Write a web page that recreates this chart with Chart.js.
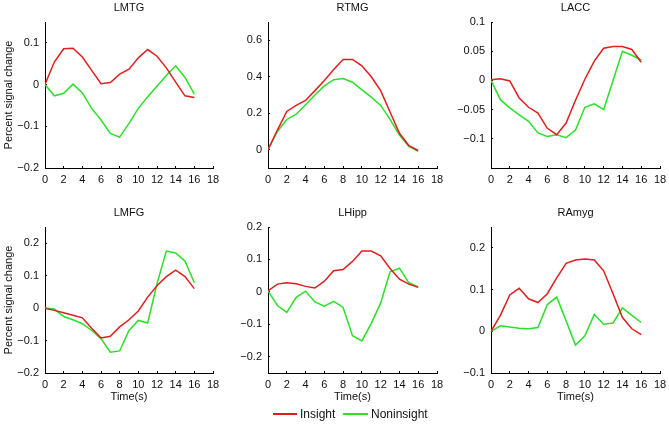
<!DOCTYPE html>
<html>
<head>
<meta charset="utf-8">
<script src="https://cdn.jsdelivr.net/npm/chart.js@4/dist/chart.umd.min.js"></script>
<style>
  body { margin: 0; background: #fff; }
  #wrap { position: relative; width: 669px; height: 424px; font-family: "Liberation Sans", Arial, sans-serif; color: #111; }
  #wrap canvas { position: absolute; left: 0; top: 0; }
  .leg { position: absolute; top: 406px; font-size: 12px; line-height: 16px; }
  .sw { position: absolute; height: 2px; top: 413px; }
</style>
</head>
<body>
<div id="wrap">
  <canvas id="c0" width="669" height="424"></canvas>
  <canvas id="c1" width="669" height="424"></canvas>
  <canvas id="c2" width="669" height="424"></canvas>
  <canvas id="c3" width="669" height="424"></canvas>
  <canvas id="c4" width="669" height="424"></canvas>
  <canvas id="c5" width="669" height="424"></canvas>
  <div class="sw" style="left:273px;width:24px;background:#e01e1e"></div>
  <div class="leg" style="left:300px">Insight</div>
  <div class="sw" style="left:343px;width:25px;background:#2be02b"></div>
  <div class="leg" style="left:371px">Noninsight</div>
</div>
<script>
// time points (s)
const times = [0, 1, 2, 3, 4, 5, 6, 7, 8, 9, 10, 11, 12, 13, 14, 15, 16];
const xTicks = [0, 2, 4, 6, 8, 10, 12, 14, 16, 18];

const regions = ["LMTG", "RTMG", "LACC", "LMFG", "LHipp", "RAmyg"];

const insightLMTG = [0, 0.054, 0.086, 0.087, 0.066, 0.034, 0.002, 0.005, 0.025, 0.037, 0.064, 0.084, 0.068, 0.04, 0.006, -0.027, -0.031];
const noninsightLMTG = [0, -0.027, -0.021, 0.001, -0.02, -0.057, -0.085, -0.117, -0.126, -0.093, -0.057, -0.029, -0.004, 0.022, 0.045, 0.017, -0.023];

const insightRTMG = [0, 0.108, 0.21, 0.243, 0.27, 0.324, 0.38, 0.44, 0.494, 0.495, 0.46, 0.4, 0.324, 0.207, 0.09, 0.023, -0.004];
const noninsightRTMG = [0, 0.1, 0.166, 0.195, 0.247, 0.3, 0.35, 0.384, 0.39, 0.37, 0.328, 0.288, 0.243, 0.166, 0.081, 0.018, -0.009];

const insightLACC = [0.001, 0.003, -0.001, -0.03, -0.046, -0.056, -0.082, -0.093, -0.073, -0.034, 0.002, 0.033, 0.055, 0.058, 0.058, 0.053, 0.031];
const noninsightLACC = [0, -0.033, -0.047, -0.059, -0.07, -0.09, -0.096, -0.093, -0.098, -0.085, -0.046, -0.04, -0.05, 0, 0.05, 0.043, 0.035];

const insightLMFG = [0, -0.007, -0.014, -0.022, -0.03, -0.062, -0.092, -0.087, -0.058, -0.036, -0.009, 0.034, 0.069, 0.097, 0.117, 0.097, 0.06];
const noninsightLMFG = [0, -0.003, -0.026, -0.036, -0.048, -0.069, -0.094, -0.136, -0.132, -0.069, -0.038, -0.046, 0.075, 0.176, 0.17, 0.145, 0.078];

const insightLHipp = [0.003, 0.024, 0.028, 0.025, 0.017, 0.012, 0.033, 0.065, 0.069, 0.094, 0.126, 0.126, 0.111, 0.072, 0.039, 0.024, 0.014];
const noninsightLHipp = [0.003, -0.042, -0.063, -0.017, 0.002, -0.031, -0.044, -0.029, -0.048, -0.135, -0.151, -0.097, -0.034, 0.062, 0.073, 0.028, 0.015];

const insightRAmyg = [0, 0.038, 0.087, 0.103, 0.078, 0.069, 0.09, 0.128, 0.163, 0.171, 0.173, 0.171, 0.145, 0.09, 0.033, 0.006, -0.008];
const noninsightRAmyg = [0, 0.013, 0.01, 0.007, 0.006, 0.009, 0.064, 0.082, 0.025, -0.033, -0.011, 0.04, 0.017, 0.02, 0.056, 0.038, 0.021];

// y axis limits and tick labels per panel
const yMin = [-0.2, -0.1, -0.15, -0.2, -0.25, -0.1];
const yMax = [0.15, 0.7, 0.1, 0.25, 0.2, 0.25];
const yTicksLMTG = [-0.2, -0.1, 0, 0.1];
const yTicksRTMG = [0, 0.2, 0.4, 0.6];
const yTicksLACC = [-0.1, -0.05, 0, 0.05, 0.1];
const yTicksLMFG = [-0.2, -0.1, 0, 0.1, 0.2];
const yTicksLHipp = [-0.2, -0.1, 0, 0.1, 0.2];
const yTicksRAmyg = [-0.1, 0, 0.1, 0.2];

const insight = [insightLMTG, insightRTMG, insightLACC, insightLMFG, insightLHipp, insightRAmyg];
const noninsight = [noninsightLMTG, noninsightRTMG, noninsightLACC, noninsightLMFG, noninsightLHipp, noninsightRAmyg];
const yTicks = [yTicksLMTG, yTicksRTMG, yTicksLACC, yTicksLMFG, yTicksLHipp, yTicksRAmyg];

const RED = '#e01e1e';
const GREEN = '#2be02b';
const FONT = { family: '"Liberation Sans", Arial, sans-serif', size: 11 };

// plot-area edges in the page
const lefts = [45, 268, 491];
const rights = [213, 437, 660];
const tops = [22, 227];
const bottoms = [168, 373];

function fmt(v) {
    if (v === 0) return '0';
    const s = String(Math.abs(v));
    return v < 0 ? '\u2212' + s : s;
}

const panelTitle = {
    id: 'panelTitle',
    afterDraw(chart, args, opts) {
        const a = chart.chartArea;
        const ctx = chart.ctx;
        ctx.save();
        ctx.font = '11px ' + FONT.family;
        ctx.fillStyle = '#111';
        ctx.textAlign = 'center';
        ctx.textBaseline = 'middle';
        ctx.fillText(opts.text, (a.left + a.right) / 2, a.top - 14);
        ctx.restore();
    }
};

for (let i = 0; i < 6; i++) {
    const col = i % 3, row = Math.floor(i / 3);
    const yW = col === 0 ? 45 : 40;
    const xH = row === 1 ? 31 : 20;
    const ticksY = yTicks[i];

    new Chart(document.getElementById('c' + i), {
        type: 'line',
        data: {
            labels: times,
            datasets: [
                { label: 'Insight', data: insight[i], borderColor: RED, borderWidth: 1.5, pointRadius: 0, tension: 0 },
                { label: 'Noninsight', data: noninsight[i], borderColor: GREEN, borderWidth: 1.5, pointRadius: 0, tension: 0 }
            ]
        },
        options: {
            responsive: false,
            animation: false,
            events: [],
            layout: {
                padding: {
                    left: lefts[col] - yW,
                    right: 669 - rights[col],
                    top: tops[row],
                    bottom: 424 - bottoms[row] - xH
                }
            },
            plugins: {
                legend: { display: false },
                tooltip: { enabled: false },
                panelTitle: { text: regions[i] }
            },
            scales: {
                x: {
                    type: 'linear',
                    min: 0,
                    max: 18,
                    afterBuildTicks: s => { s.ticks = xTicks.map(v => ({ value: v })); },
                    afterFit: s => { s.height = xH; s.paddingLeft = 0; s.paddingRight = 0; },
                    grid: { drawOnChartArea: false, color: '#000', tickLength: -2 },
                    border: { color: '#000', width: 1 },
                    ticks: { color: '#111', font: FONT, padding: 7, maxRotation: 0, autoSkip: false },
                    title: { display: row === 1, text: 'Time(s)', color: '#111', font: FONT, padding: 0 }
                },
                y: {
                    min: yMin[i],
                    max: yMax[i],
                    afterBuildTicks: s => { s.ticks = ticksY.map(v => ({ value: v })); },
                    afterFit: s => { s.width = yW; s.paddingTop = 0; s.paddingBottom = 0; },
                    grid: { drawOnChartArea: false, color: '#000', tickLength: -2 },
                    border: { color: '#000', width: 1 },
                    ticks: { color: '#111', font: FONT, padding: 8, autoSkip: false, callback: v => fmt(v) },
                    title: { display: col === 0, text: 'Percent signal change', color: '#111', font: FONT, padding: { top: 2, bottom: 0 } }
                }
            }
        },
        plugins: [panelTitle]
    });
}
</script>
</body>
</html>
